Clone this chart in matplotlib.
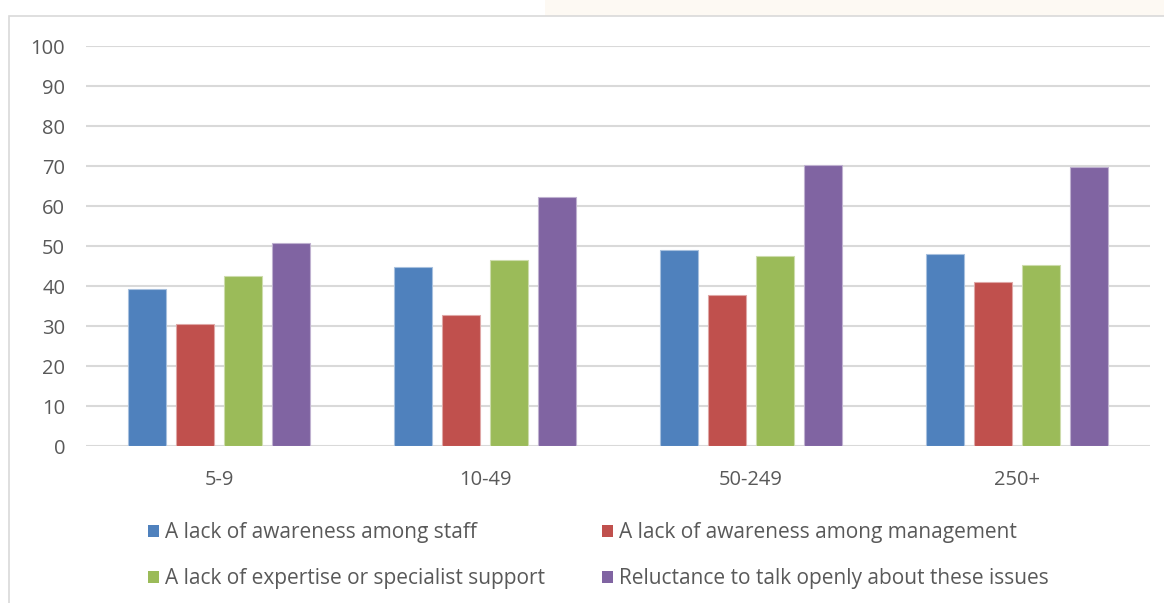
import matplotlib.pyplot as plt
import numpy as np
from matplotlib.patches import Rectangle

sizes = ["5-9", "10-49", "50-249", "250+"]
series = [
    "A lack of awareness among staff",
    "A lack of awareness among management",
    "A lack of expertise or specialist support",
    "Reluctance to talk openly about these issues",
]
staff = [39.2, 44.8, 48.9, 47.9]
management = [30.6, 32.7, 37.7, 40.9]
expertise = [42.4, 46.4, 47.5, 45.25]
reluctance = [50.75, 62.2, 70.25, 69.75]
colors = ["#4F81BD", "#C0504D", "#9BBB59", "#8064A2"]
edges = ["#a7c0de", "#dfa7a6", "#cddcac", "#bfb1d0"]

plt.rcParams["font.family"] = ["Open Sans", "DejaVu Sans"]
text_color = "#595959"
grid_color = "#d9d9d9"

fig = plt.figure(figsize=(11.64, 6.03), dpi=100)

# chart frame and the tinted strip above it
fig.patches.append(Rectangle((545 / 1164, 1 - 16 / 603), 1, 16 / 603,
                             transform=fig.transFigure, fc="#fdf9f3",
                             ec="none", zorder=-5))
fig.patches.append(Rectangle((9 / 1164, -0.05), 1.2, 1 - 16 / 603 + 0.05,
                             transform=fig.transFigure, fc="white",
                             ec="#d9d9d9", lw=1.2, zorder=-5))

ax = fig.add_axes([86 / 1164, 1 - 446 / 603, 1064 / 1164, 400 / 603])
ax.patch.set_alpha(0)

x = np.arange(len(sizes))
step = 0.18
width = 0.143
for i, (vals, lab) in enumerate(zip([staff, management, expertise, reluctance], series)):
    ax.bar(x + (i - 1.5) * step, vals, width, color=colors[i], label=lab,
           edgecolor=edges[i], linewidth=0.8, zorder=3)

ax.set_xlim(-0.5, len(sizes) - 0.5)
ax.set_ylim(0, 100)
ax.set_yticks(range(0, 101, 10))
ax.set_xticks(x)
ax.set_xticklabels(sizes)
ax.yaxis.grid(True, color=grid_color, lw=1.5, zorder=0)
for s in ax.spines.values():
    s.set_visible(False)
ax.tick_params(axis="both", length=0, labelsize=14.5, colors=text_color)
ax.tick_params(axis="y", pad=22)
ax.tick_params(axis="x", pad=14)
ax.tick_params(axis="y", pad=15)
ax.tick_params(axis="x", pad=17)

# legend fills row by row: staff, management / expertise, reluctance
handles, labels = ax.get_legend_handles_labels()
order = [0, 2, 1, 3]
leg = fig.legend([handles[k] for k in order], [labels[k] for k in order],
                 loc="upper left", ncol=2,
                 bbox_to_anchor=(140 / 1164, 1 - 514 / 603),
                 frameon=False, fontsize=15, handlelength=0.5,
                 handleheight=0.5, handletextpad=0.3, columnspacing=2.75,
                 labelspacing=1.2, borderaxespad=0)
for t in leg.get_texts():
    t.set_color(text_color)
for h in leg.legend_handles:
    h.set_edgecolor("none")

fig.savefig("out.png", dpi=100)
